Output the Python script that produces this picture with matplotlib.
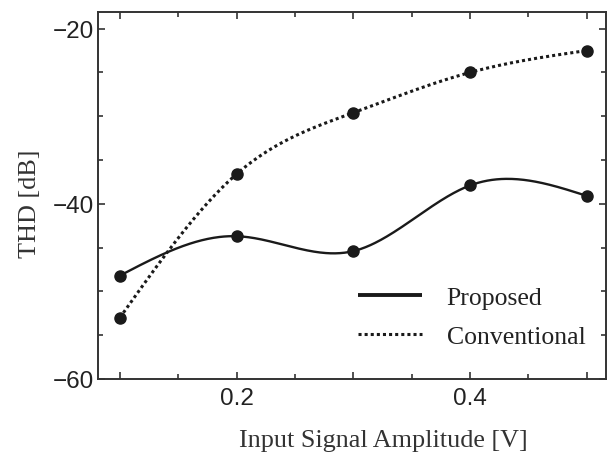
import numpy as np
import matplotlib
matplotlib.use("Agg")
import matplotlib.pyplot as plt
from matplotlib.ticker import MultipleLocator, FixedLocator, FixedFormatter
from matplotlib.lines import Line2D

amplitude = [0.1, 0.2, 0.3, 0.4, 0.5]
proposed = [-48.2, -43.7, -45.4, -37.9, -39.1]
conventional = [-53.0, -36.6, -29.6, -25.0, -22.5]
xtick_labels = ["0.2", "0.4"]
ytick_labels = ["\u221260", "\u221240", "\u221220"]


def natural_spline(x, y, xs):
    x = np.asarray(x, float)
    y = np.asarray(y, float)
    n = len(x)
    h = np.diff(x)
    A = np.zeros((n, n))
    b = np.zeros(n)
    A[0, 0] = 1
    A[-1, -1] = 1
    for i in range(1, n - 1):
        A[i, i - 1] = h[i - 1]
        A[i, i] = 2 * (h[i - 1] + h[i])
        A[i, i + 1] = h[i]
        b[i] = 6 * ((y[i + 1] - y[i]) / h[i] - (y[i] - y[i - 1]) / h[i - 1])
    M = np.linalg.solve(A, b)
    out = np.empty_like(xs)
    for k, xv in enumerate(xs):
        i = min(max(np.searchsorted(x, xv) - 1, 0), n - 2)
        t1 = x[i + 1] - xv
        t0 = xv - x[i]
        out[k] = (M[i] * t1**3 / (6 * h[i]) + M[i + 1] * t0**3 / (6 * h[i])
                  + (y[i] / h[i] - M[i] * h[i] / 6) * t1
                  + (y[i + 1] / h[i] - M[i + 1] * h[i] / 6) * t0)
    return out


ink = "#1a1a1a"
fig = plt.figure(figsize=(6.12, 4.56), dpi=100)
ax = fig.add_axes([0.160, 0.1667, 0.830, 0.8048])

xs = np.linspace(amplitude[0], amplitude[-1], 400)
ax.plot(xs, natural_spline(amplitude, proposed, xs), color=ink, lw=1.7,
        solid_capstyle="butt")
ax.plot(xs, natural_spline(amplitude, conventional, xs), color=ink, lw=2.2,
        linestyle=(0, (1.0, 1.0)), dash_capstyle="butt")
ax.plot(amplitude, proposed, "o", color=ink, ms=8)
ax.plot(amplitude, conventional, "o", color=ink, ms=8)

ax.set_xlim(0.0812, 0.5163)
ax.set_ylim(-60, -18.1)

ax.xaxis.set_major_locator(FixedLocator([0.1, 0.2, 0.3, 0.4, 0.5]))
ax.xaxis.set_major_formatter(FixedFormatter(["", xtick_labels[0], "", xtick_labels[1], ""]))
ax.xaxis.set_minor_locator(FixedLocator([0.15, 0.25, 0.35, 0.45]))
ax.yaxis.set_major_locator(FixedLocator([-60, -40, -20]))
ax.yaxis.set_major_formatter(FixedFormatter(ytick_labels))
ax.yaxis.set_minor_locator(MultipleLocator(5))

ax.tick_params(which="both", direction="in", top=True, right=True, width=1.2,
               color="#333333")
ax.tick_params(which="major", length=5)
ax.tick_params(which="minor", length=3.5)
ax.tick_params(axis="both", which="major", labelsize=17.5, labelcolor="#222222")
ax.tick_params(axis="x", which="major", pad=5.5)
ax.tick_params(axis="y", which="major", pad=3)
for lab in ax.get_xticklabels() + ax.get_yticklabels():
    lab.set_family("Liberation Sans")

for s in ax.spines.values():
    s.set_linewidth(1.4)
    s.set_color("#333333")

ax.set_xlabel("Input Signal Amplitude [V]", family="Liberation Serif", fontsize=18.8,
              color="#333333")
ax.xaxis.set_label_coords(0.562, -0.135)
ax.set_ylabel("THD [dB]", family="Liberation Serif", fontsize=18.8,
              color="#333333")
ax.yaxis.set_label_coords(-0.112, 0.481)

handles = [Line2D([], [], color=ink, lw=2.8, solid_capstyle="butt"),
           Line2D([], [], color=ink, lw=2.2, linestyle=(0, (1.0, 1.0)),
                  dash_capstyle="butt")]
leg = ax.legend(handles, ["Proposed", "Conventional"], loc="center left",
                frameon=False, handlelength=2.5, borderpad=0, borderaxespad=0,
                prop={"family": "Liberation Serif", "size": 18.5},
                labelspacing=0.6, handletextpad=0.95,
                bbox_to_anchor=(0.512, 0.169))
for t in leg.get_texts():
    t.set_color("#222222")

fig.savefig("out.png", dpi=100)
